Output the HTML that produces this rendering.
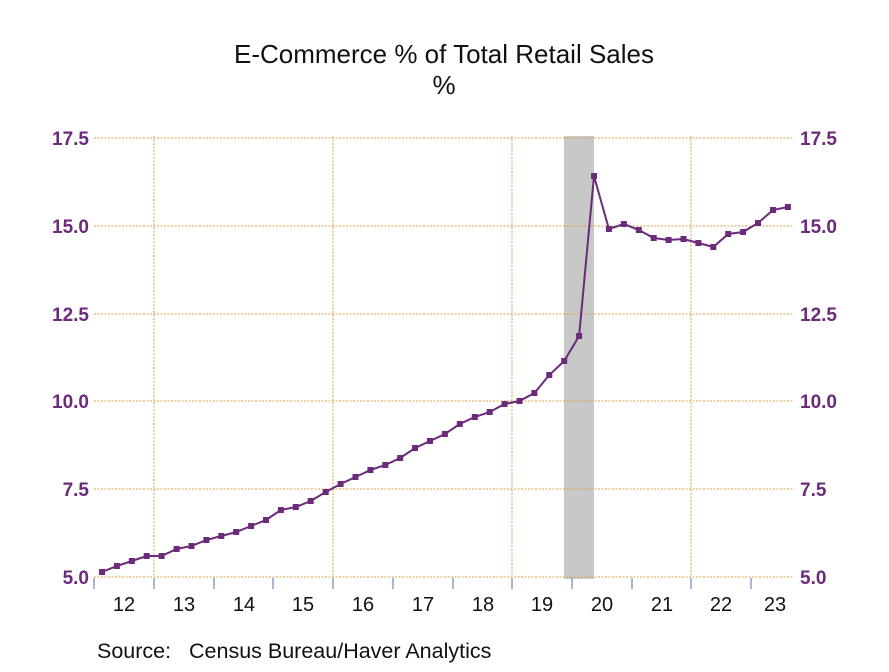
<!DOCTYPE html>
<html><head><meta charset="utf-8"><style>
body{margin:0;background:#fff}
svg text{font-family:"Liberation Sans",Arial,sans-serif;white-space:pre}
</style></head><body>
<svg width="889" height="667" viewBox="0 0 889 667" xmlns="http://www.w3.org/2000/svg">
<rect width="889" height="667" fill="#fff"/>
<text x="444" y="63" font-size="26" text-anchor="middle" fill="#111">E-Commerce % of Total Retail Sales</text>
<text x="444" y="94" font-size="26" text-anchor="middle" fill="#111">%</text>
<rect x="564" y="136" width="30" height="443" fill="#c8c8c8"/>
<g stroke="#d9a048" stroke-width="1" stroke-dasharray="2,1.5" fill="none">
<line x1="94" y1="138" x2="794" y2="138"/>
<line x1="94" y1="226" x2="794" y2="226"/>
<line x1="94" y1="314" x2="794" y2="314"/>
<line x1="94" y1="401" x2="794" y2="401"/>
<line x1="94" y1="489" x2="794" y2="489"/>
<line x1="94" y1="577" x2="794" y2="577"/>
<line x1="154" y1="136" x2="154" y2="577"/>
<line x1="333" y1="136" x2="333" y2="577"/>
<line x1="512" y1="136" x2="512" y2="577"/>
<line x1="691" y1="136" x2="691" y2="577"/>
</g>
<g stroke="#4a6fb0" stroke-width="1">
<line x1="94" y1="578" x2="94" y2="589"/><line x1="154" y1="578" x2="154" y2="589"/>
<line x1="214" y1="578" x2="214" y2="589"/><line x1="273" y1="578" x2="273" y2="589"/>
<line x1="333" y1="578" x2="333" y2="589"/><line x1="393" y1="578" x2="393" y2="589"/>
<line x1="453" y1="578" x2="453" y2="589"/><line x1="512" y1="578" x2="512" y2="589"/>
<line x1="572" y1="578" x2="572" y2="589"/><line x1="632" y1="578" x2="632" y2="589"/>
<line x1="691" y1="578" x2="691" y2="589"/><line x1="751" y1="578" x2="751" y2="589"/>
</g>
<g font-size="20" fill="#111" text-anchor="middle">
<text x="124" y="611">12</text><text x="184" y="611">13</text><text x="244" y="611">14</text>
<text x="303" y="611">15</text><text x="363" y="611">16</text><text x="423" y="611">17</text>
<text x="483" y="611">18</text><text x="542" y="611">19</text><text x="602" y="611">20</text>
<text x="662" y="611">21</text><text x="721" y="611">22</text><text x="775" y="611">23</text>
</g>
<g font-size="19" font-weight="bold" fill="#6b2a7a">
<g text-anchor="end">
<text x="89" y="145">17.5</text><text x="89" y="233">15.0</text><text x="89" y="321">12.5</text>
<text x="89" y="408">10.0</text><text x="89" y="496">7.5</text><text x="89" y="584">5.0</text>
</g>
<text x="800" y="145">17.5</text><text x="800" y="233">15.0</text><text x="800" y="321">12.5</text>
<text x="800" y="408">10.0</text><text x="800" y="496">7.5</text><text x="800" y="584">5.0</text>
</g>
<polyline fill="none" stroke="#6b2a7a" stroke-width="2" points="102.0,572 116.9,566 131.8,561 146.7,556 161.6,556 176.6,549 191.5,546 206.4,540 221.3,536 236.2,532 251.1,526 266.0,520 280.9,510 295.8,507 310.7,501 325.7,492 340.6,484 355.5,477 370.4,470 385.3,465 400.2,458 415.1,448 430.0,441 444.9,434 459.8,424 474.8,417 489.7,412 504.6,404 519.5,401 534.4,393 549.3,375 564.2,361 579.1,336 594.0,176 608.9,229 623.9,224 638.8,230 653.7,238 668.6,240 683.5,239 698.4,243 713.3,247 728.2,234 743.1,232 758.0,223 773.0,210 787.9,207"/>
<g fill="#6b2a7a">
<rect x="99.0" y="569" width="6" height="6"/><rect x="113.9" y="563" width="6" height="6"/><rect x="128.8" y="558" width="6" height="6"/><rect x="143.7" y="553" width="6" height="6"/>
<rect x="158.6" y="553" width="6" height="6"/><rect x="173.6" y="546" width="6" height="6"/><rect x="188.5" y="543" width="6" height="6"/><rect x="203.4" y="537" width="6" height="6"/>
<rect x="218.3" y="533" width="6" height="6"/><rect x="233.2" y="529" width="6" height="6"/><rect x="248.1" y="523" width="6" height="6"/><rect x="263.0" y="517" width="6" height="6"/>
<rect x="277.9" y="507" width="6" height="6"/><rect x="292.8" y="504" width="6" height="6"/><rect x="307.7" y="498" width="6" height="6"/><rect x="322.7" y="489" width="6" height="6"/>
<rect x="337.6" y="481" width="6" height="6"/><rect x="352.5" y="474" width="6" height="6"/><rect x="367.4" y="467" width="6" height="6"/><rect x="382.3" y="462" width="6" height="6"/>
<rect x="397.2" y="455" width="6" height="6"/><rect x="412.1" y="445" width="6" height="6"/><rect x="427.0" y="438" width="6" height="6"/><rect x="441.9" y="431" width="6" height="6"/>
<rect x="456.8" y="421" width="6" height="6"/><rect x="471.8" y="414" width="6" height="6"/><rect x="486.7" y="409" width="6" height="6"/><rect x="501.6" y="401" width="6" height="6"/>
<rect x="516.5" y="398" width="6" height="6"/><rect x="531.4" y="390" width="6" height="6"/><rect x="546.3" y="372" width="6" height="6"/><rect x="561.2" y="358" width="6" height="6"/>
<rect x="576.1" y="333" width="6" height="6"/><rect x="591.0" y="173" width="6" height="6"/><rect x="605.9" y="226" width="6" height="6"/><rect x="620.9" y="221" width="6" height="6"/>
<rect x="635.8" y="227" width="6" height="6"/><rect x="650.7" y="235" width="6" height="6"/><rect x="665.6" y="237" width="6" height="6"/><rect x="680.5" y="236" width="6" height="6"/>
<rect x="695.4" y="240" width="6" height="6"/><rect x="710.3" y="244" width="6" height="6"/><rect x="725.2" y="231" width="6" height="6"/><rect x="740.1" y="229" width="6" height="6"/>
<rect x="755.0" y="220" width="6" height="6"/><rect x="770.0" y="207" width="6" height="6"/><rect x="784.9" y="204" width="6" height="6"/>
</g>
<text x="97" y="658" font-size="21.5" fill="#111">Source:   Census Bureau/Haver Analytics</text>
</svg>
</body></html>
